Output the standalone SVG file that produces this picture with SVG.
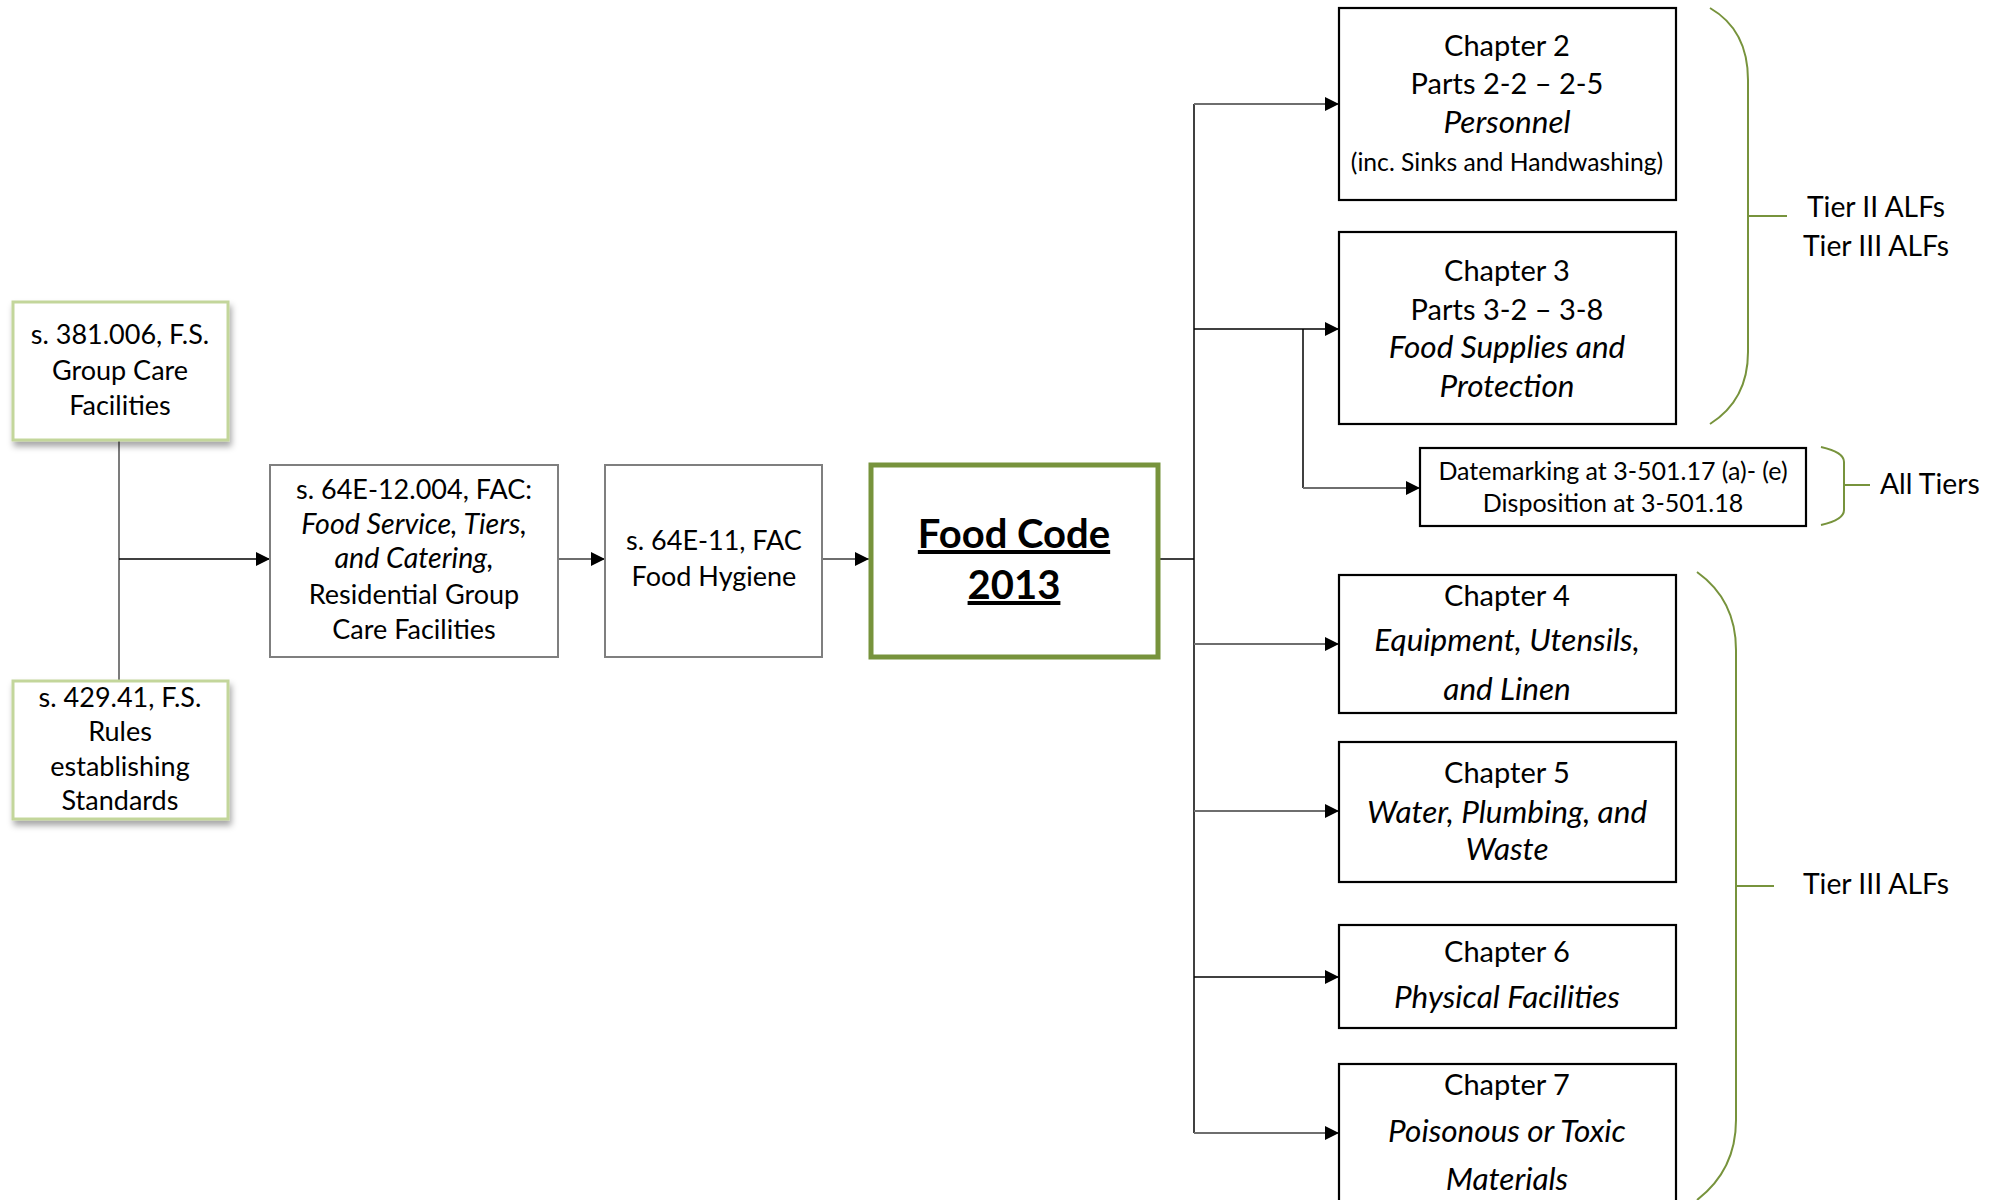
<svg xmlns="http://www.w3.org/2000/svg" width="2007" height="1200" viewBox="0 0 2007 1200">
<defs>
<style>
text{font-family:Lato,"Liberation Sans",sans-serif;fill:#000;text-anchor:middle}
.t{font-size:27px}
.ti{font-size:28.6px;font-style:italic}
.c{font-size:29px}
.ci{font-size:31.5px;font-style:italic}
.sm{font-size:24.7px}
.dm{font-size:25px}
.lab{font-size:28.3px;text-anchor:start}
.fc{font-size:40px;font-weight:bold;text-decoration:underline}
.lg{fill:#fff;stroke:#c3d69b;stroke-width:3}
.gr{fill:#fff;stroke:#7f7f7f;stroke-width:2}
.bk{fill:#fff;stroke:#000;stroke-width:2.2}
.cn{fill:none;stroke:#000;stroke-width:1.5}
.cg{fill:none;stroke:#6e6e6e;stroke-width:1.8}
.br{fill:none;stroke:#77933c;stroke-width:2}
</style>
<marker id="ah" viewBox="0 0 10 10" refX="10" refY="5" markerWidth="14" markerHeight="14" markerUnits="userSpaceOnUse" orient="auto">
<path d="M0,0L10,5L0,10z" fill="#000"/>
</marker>
<filter id="sh" x="-10%" y="-10%" width="130%" height="130%">
<feDropShadow dx="2" dy="5" stdDeviation="3" flood-color="#000" flood-opacity="0.35"/>
</filter>
</defs>
<g id="connectors">
<path class="cg" d="M119,440V681"/>
<path class="cn" d="M119,559H270" marker-end="url(#ah)"/>
<path class="cg" d="M558,559H605" marker-end="url(#ah)"/>
<path class="cg" d="M822,559H869" marker-end="url(#ah)"/>
<path class="cn" d="M1160,559H1194"/>
<path class="cn" d="M1194,104V1133"/>
<path class="cg" d="M1194,104H1339" marker-end="url(#ah)"/>
<path class="cn" d="M1194,329H1339" marker-end="url(#ah)"/>
<path class="cn" d="M1303,329V488"/>
<path class="cg" d="M1303,488H1420" marker-end="url(#ah)"/>
<path class="cg" d="M1194,644H1339" marker-end="url(#ah)"/>
<path class="cg" d="M1194,811H1339" marker-end="url(#ah)"/>
<path class="cn" d="M1194,977H1339" marker-end="url(#ah)"/>
<path class="cg" d="M1194,1133H1339" marker-end="url(#ah)"/>
</g>
<g id="n-381">
<rect class="lg" x="13" y="302" width="215" height="138" filter="url(#sh)"/>
<text class="t" x="120" y="344">s. 381.006, F.S.</text>
<text class="t" x="120" y="380">Group Care</text>
<text class="t" x="120" y="415">Facilities</text>
</g>
<g id="n-429">
<rect class="lg" x="13" y="681" width="215" height="138" filter="url(#sh)"/>
<text class="t" x="120" y="707">s. 429.41, F.S.</text>
<text class="t" x="120" y="741">Rules</text>
<text class="t" x="120" y="776">establishing</text>
<text class="t" x="120" y="810">Standards</text>
</g>
<g id="n-64e12">
<rect class="gr" x="270" y="465" width="288" height="192"/>
<text class="t" x="414" y="499">s. 64E-12.004, FAC:</text>
<text class="ti" x="414" y="534">Food Service, Tiers,</text>
<text class="ti" x="414" y="568">and Catering,</text>
<text class="t" x="414" y="604">Residential Group</text>
<text class="t" x="414" y="639">Care Facilities</text>
</g>
<g id="n-64e11">
<rect class="gr" x="605" y="465" width="217" height="192"/>
<text class="t" x="714" y="550">s. 64E-11, FAC</text>
<text class="t" x="714" y="586">Food Hygiene</text>
</g>
<g id="n-foodcode">
<rect x="871" y="465" width="287" height="192" fill="#fff" stroke="#77933c" stroke-width="5"/>
<text class="fc" x="1014" y="548">Food Code</text>
<text class="fc" x="1014" y="599">2013</text>
</g>
<g id="n-ch2">
<rect class="bk" x="1339" y="8" width="337" height="192"/>
<text class="c" x="1507" y="56">Chapter 2</text>
<text class="c" x="1507" y="94">Parts 2-2 – 2-5</text>
<text class="ci" x="1507" y="133">Personnel</text>
<text class="sm" x="1507" y="171">(inc. Sinks and Handwashing)</text>
</g>
<g id="n-ch3">
<rect class="bk" x="1339" y="232" width="337" height="192"/>
<text class="c" x="1507" y="281">Chapter 3</text>
<text class="c" x="1507" y="320">Parts 3-2 – 3-8</text>
<text class="ci" x="1507" y="358">Food Supplies and</text>
<text class="ci" x="1507" y="397">Protection</text>
</g>
<g id="n-datemark">
<rect class="bk" x="1420" y="448" width="386" height="78"/>
<text class="dm" x="1613" y="480">Datemarking at 3-501.17 (a)- (e)</text>
<text class="dm" x="1613" y="512">Disposition at 3-501.18</text>
</g>
<g id="n-ch4">
<rect class="bk" x="1339" y="575" width="337" height="138"/>
<text class="c" x="1507" y="606">Chapter 4</text>
<text class="ci" x="1507" y="651">Equipment, Utensils,</text>
<text class="ci" x="1507" y="700">and Linen</text>
</g>
<g id="n-ch5">
<rect class="bk" x="1339" y="742" width="337" height="140"/>
<text class="c" x="1507" y="783">Chapter 5</text>
<text class="ci" x="1507" y="823">Water, Plumbing, and</text>
<text class="ci" x="1507" y="860">Waste</text>
</g>
<g id="n-ch6">
<rect class="bk" x="1339" y="925" width="337" height="103"/>
<text class="c" x="1507" y="962">Chapter 6</text>
<text class="ci" x="1507" y="1008">Physical Facilities</text>
</g>
<g id="n-ch7">
<rect class="bk" x="1339" y="1064" width="337" height="150"/>
<text class="c" x="1507" y="1095">Chapter 7</text>
<text class="ci" x="1507" y="1142">Poisonous or Toxic</text>
<text class="ci" x="1507" y="1190">Materials</text>
</g>
<g id="braces">
<path class="br" d="M1710,8Q1748,30 1748,80V352Q1748,400 1710,424M1748,216H1787"/>
<path class="br" d="M1821,447Q1844,452 1844,462V510Q1844,520 1821,525M1844,485H1870"/>
<path class="br" d="M1697,572Q1736,600 1736,650V1120Q1736,1170 1697,1200M1736,886H1774"/>
</g>
<g id="labels">
<text class="lab" x="1807" y="217">Tier II ALFs</text>
<text class="lab" x="1803" y="256">Tier III ALFs</text>
<text class="lab" x="1880" y="494">All Tiers</text>
<text class="lab" x="1803" y="894">Tier III ALFs</text>
</g>
</svg>
